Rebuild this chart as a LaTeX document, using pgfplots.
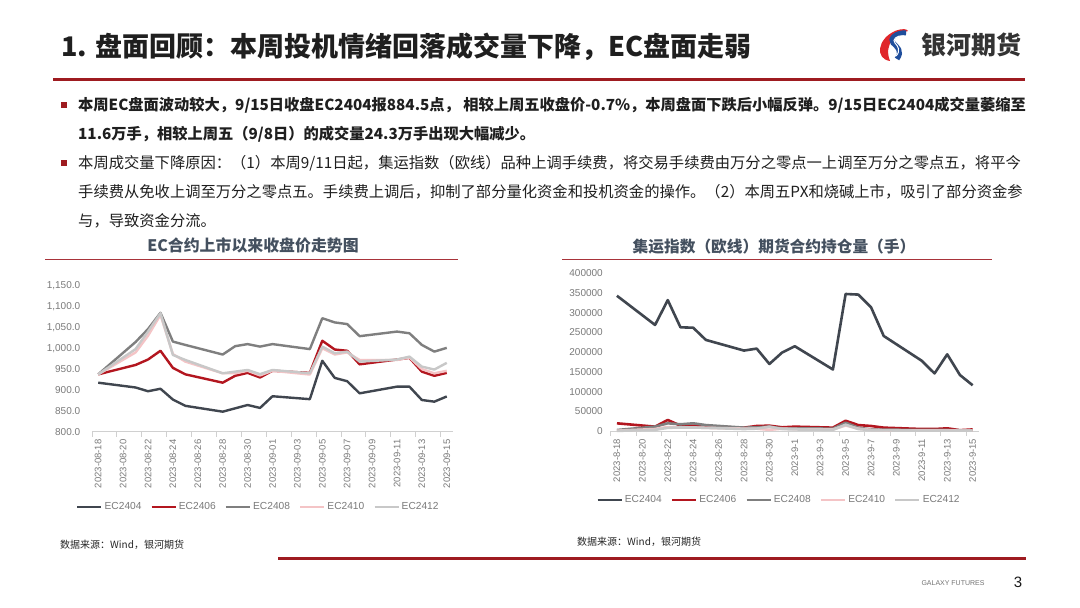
\documentclass[border=0pt]{standalone}
\usepackage{fontspec}
\setmainfont{Liberation Sans}
\newfontfamily\cjk{Noto Sans CJK SC}
\usepackage{pgfplots}
\usepackage{pgfplotstable}
\pgfplotsset{compat=1.18}
\definecolor{cA}{HTML}{40464F}
\definecolor{cB}{HTML}{B3161F}
\definecolor{cC}{HTML}{7F7F7F}
\definecolor{cD}{HTML}{F4C4C6}
\definecolor{cE}{HTML}{C8C8C8}
\definecolor{ctitle}{HTML}{44505F}
\definecolor{ctick}{HTML}{7A7A7A}
\definecolor{caxis}{HTML}{D0D0D0}
\definecolor{rulered}{HTML}{9E1B20}
\definecolor{thinred}{HTML}{A8333A}
\definecolor{logored}{HTML}{E0262B}
\definecolor{logoblue}{HTML}{1F4E9C}

\pgfplotstableread{
d A B C D E
0 917.5 937.5 937.5 937.5 937.5
3 906 960 1015 990 998
4 897 973 1046 1030 1040
5 903 994 1085 1080 1084
6 877 953 1016 986 984
7 862 937.5 1008 968 972
10 848 917.5 985 940 940
11 856 934 1005 940 944
12 864 941 1010 946 948
13 857 930 1004 935 938
14 885 946 1010 946 948
17 878 941 998 937 940
18 970 1018 1072 1000 1004
19 929 997 1062 985 988
20 921 994 1058 990 992
21 892 961.5 1029 972 968
24 908 973 1040 972 973
25 908 977 1036 978 980
26 876 944 1008 950 956
27 872 934 992 940 949
28 884.5 941 1001 946 965
}\leftdata

\pgfplotstableread{
d A B C D E
0 343000 19500 2500 800 300
3 269000 11000 11000 5000 3000
4 332000 28000 19500 10000 8000
5 263000 13500 17000 9000 9000
6 262000 13500 19500 9000 9000
7 231000 11000 15000 8000 8000
10 204000 8500 8500 6000 5000
11 209000 12700 9300 6000 6000
12 170000 13500 11000 3000 11000
13 199000 9300 6800 6000 5000
14 215000 11000 6800 5000 4000
17 156000 8500 6000 4000 3000
18 347500 26000 21000 14000 16000
19 346000 15000 8500 6000 5000
20 314000 12700 4000 3000 2000
21 241000 8500 3400 2000 1500
24 178000 5000 2500 1500 1000
25 146000 5000 2500 1500 1000
26 194500 6800 2500 1500 1000
27 142000 2000 1700 1000 800
28 116000 4000 1700 1000 800
}\rightdata

\pgfplotsset{
  slidechart/.style={
    scale only axis,
    anchor=south west,
    xmin=-0.5, xmax=28.5,
    axis x line*=bottom, axis y line*=left,
    y axis line style={draw=none},
    x axis line style={draw=caxis, line width=0.8pt},
    tick align=outside,
    ytick style={draw=none},
    xtick style={draw=none},
    xtick={0,2,...,28},
    extra x ticks={-0.5,1.5,...,28.5},
    extra x tick labels={},
    extra x tick style={xtick style={draw=caxis, line width=0.8pt}, major tick length=5pt},
    ticklabel style={font=\fontsize{10}{12}\selectfont, text=ctick},
    xticklabel style={rotate=90, anchor=east, font=\fontsize{9.5}{11}\selectfont},
    /pgf/number format/assume math mode=true,
    scaled y ticks=false,
    clip=false,
    legend columns=5,
    legend cell align=left,
    legend style={draw=none, fill=none, font=\fontsize{10.2}{12}\selectfont, text=ctick,
      /tikz/every even column/.append style={column sep=7pt}, inner sep=0pt},
    legend image code/.code={\draw[#1] (0pt,0pt) -- (24pt,0pt);},
    every axis plot/.append style={line join=round, no markers},
  }
}

\begin{document}
\begin{tikzpicture}[x=1pt,y=1pt]
\path[use as bounding box, fill=white] (0,0) rectangle (1080,608);

% slide title
\node[anchor=west, inner sep=0pt, font=\cjk\bfseries\fontsize{27}{30}\selectfont, text=black!88] at (61,561) {1. 盘面回顾：本周投机情绪回落成交量下降，EC盘面走弱};
% logo
\begin{scope}[shift={(893,563)}]
  \fill[logored] (-3,-16) .. controls (-18,-14) and (-16,6) .. (2,14) .. controls (10,17) and (14,16) .. (15,14) .. controls (4,12) and (-10,2) .. (-3,-16) -- cycle;
  \draw[logoblue, line width=5pt] (13,12) .. controls (3,13) and (-4,6) .. (0,2) .. controls (4,-2) and (10,-6) .. (4,-14);
  \draw[white, line width=1pt] (11,9) .. controls (3,10) and (-1,5) .. (2,2) .. controls (5,-1) and (8,-6) .. (3,-11);
\end{scope}
\node[anchor=west, inner sep=0pt, font=\cjk\bfseries\fontsize{25}{28}\selectfont, text=black!80] at (921,563) {银河期货};
% rule
\fill[rulered] (53,526.5) rectangle (1025,529.5);

% bullets
\fill[rulered] (61,500) rectangle (67,506);
\fill[rulered] (61,442) rectangle (67,448);
\begin{scope}[every node/.style={anchor=west, inner sep=0pt, text=black!88}]
\node[font=\cjk\bfseries\fontsize{15.25}{18}\selectfont] at (78,503) {本周EC盘面波动较大，9/15日收盘EC2404报884.5点， 相较上周五收盘价-0.7\%，本周盘面下跌后小幅反弹。9/15日EC2404成交量萎缩至};
\node[font=\cjk\bfseries\fontsize{15.25}{18}\selectfont] at (78,474) {11.6万手，相较上周五（9/8日）的成交量24.3万手出现大幅减少。};
\node[font=\cjk\fontsize{15.3}{18}\selectfont] at (78,445) {本周成交量下降原因：（1）本周9/11日起，集运指数（欧线）品种上调手续费，将交易手续费由万分之零点一上调至万分之零点五，将平今};
\node[font=\cjk\fontsize{15.3}{18}\selectfont] at (78,416) {手续费从免收上调至万分之零点五。手续费上调后，抑制了部分量化资金和投机资金的操作。（2）本周五PX和烧碱上市，吸引了部分资金参};
\node[font=\cjk\fontsize{15.3}{18}\selectfont] at (78,387) {与，导致资金分流。};
\end{scope}

% chart titles
\node[font=\cjk\bfseries\fontsize{15.9}{18}\selectfont, text=ctitle, inner sep=0pt] at (253,363) {EC合约上市以来收盘价走势图};
\draw[thinred, line width=1pt] (45,348) -- (458,348);
\node[font=\cjk\bfseries\fontsize{15.7}{18}\selectfont, text=ctitle, inner sep=0pt] at (774,361) {集运指数（欧线）期货合约持仓量（手）};
\draw[thinred, line width=1pt] (562,348) -- (992,348);

% left chart
\begin{axis}[slidechart,
  at={(92pt,176.3pt)}, width=361pt, height=146pt,
  ymin=800, ymax=1150, ytick={800,850,...,1150},
  yticklabel style={/pgf/number format/fixed, /pgf/number format/fixed zerofill,
    /pgf/number format/precision=1, /pgf/number format/1000 sep={,}, xshift=-4pt},
  xticklabels={2023-08-18,2023-08-20,2023-08-22,2023-08-24,2023-08-26,2023-08-28,2023-08-30,2023-09-01,2023-09-03,2023-09-05,2023-09-07,2023-09-09,2023-09-11,2023-09-13,2023-09-15},
  legend style={at={(0.461,-0.516)}, anchor=center},
]
\addplot[cA, line width=2.4pt] table[x=d, y=A] {\leftdata};
\addplot[cB, line width=2.4pt] table[x=d, y=B] {\leftdata};
\addplot[cC, line width=2.4pt] table[x=d, y=C] {\leftdata};
\addplot[cD, line width=2.4pt] table[x=d, y=D] {\leftdata};
\addplot[cE, line width=2.4pt] table[x=d, y=E] {\leftdata};
\legend{EC2404,EC2406,EC2408,EC2410,EC2412}
\end{axis}

% right chart
\begin{axis}[slidechart,
  at={(610.6pt,177pt)}, width=368.4pt, height=157.7pt,
  ymin=0, ymax=400000, ytick={0,50000,...,400000},
  yticklabel style={/pgf/number format/fixed, /pgf/number format/precision=0, /pgf/number format/1000 sep={}},
  xticklabels={2023-8-18,2023-8-20,2023-8-22,2023-8-24,2023-8-26,2023-8-28,2023-8-30,2023-9-1,2023-9-3,2023-9-5,2023-9-7,2023-9-9,2023-9-11,2023-9-13,2023-9-15},
  legend style={at={(0.457,-0.4375)}, anchor=center},
]
\addplot[cA, line width=2.6pt] table[x=d, y=A] {\rightdata};
\addplot[cB, line width=2.6pt] table[x=d, y=B] {\rightdata};
\addplot[cC, line width=2.6pt] table[x=d, y=C] {\rightdata};
\addplot[cD, line width=2.6pt] table[x=d, y=D] {\rightdata};
\addplot[cE, line width=2.6pt] table[x=d, y=E] {\rightdata};
\legend{EC2404,EC2406,EC2408,EC2410,EC2412}
\end{axis}

% sources
\node[anchor=west, inner sep=0pt, font=\cjk\fontsize{10}{12}\selectfont, text=black!85] at (60,63) {数据来源：Wind，银河期货};
\node[anchor=west, inner sep=0pt, font=\cjk\fontsize{10}{12}\selectfont, text=black!85] at (577,66) {数据来源：Wind，银河期货};

% footer
\fill[rulered] (278,48) rectangle (1026,51);
\node[font=\fontsize{7}{8}\selectfont, text=black!55, inner sep=0pt] at (953,25) {GALAXY FUTURES};
\node[font=\fontsize{15}{17}\selectfont, text=black!90, inner sep=0pt] at (1018,26) {3};
\end{tikzpicture}
\end{document}
